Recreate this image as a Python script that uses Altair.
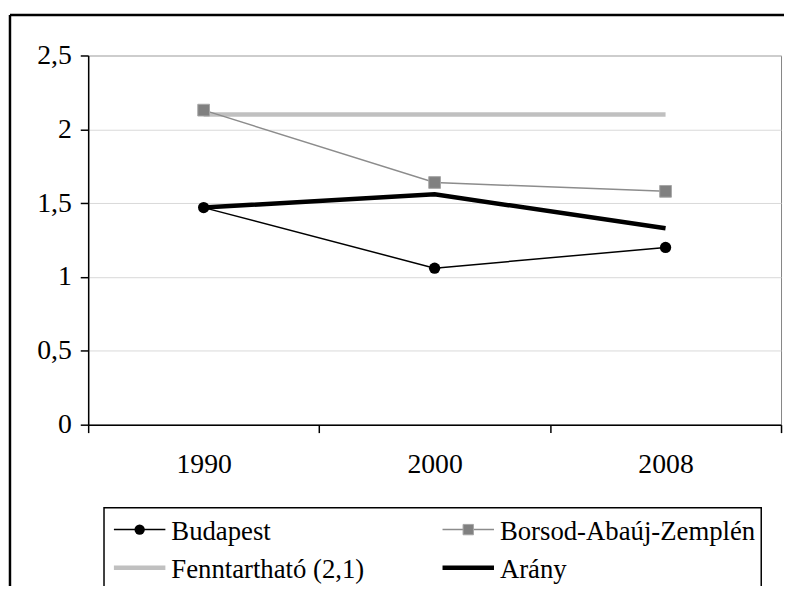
import altair as alt
import pandas as pd

years = ["1990", "2000", "2008"]
budapest = [1.47, 1.06, 1.20]
borsod = [2.13, 1.64, 1.58]
fenntarthato = [2.1, 2.1, 2.1]
arany = [1.47, 1.56, 1.33]
series_names = ["Budapest", "Borsod-Abaúj-Zemplén", "Fenntartható (2,1)", "Arány"]
y_ticks = [0, 0.5, 1, 1.5, 2, 2.5]

FONT = "Liberation Serif"
AXFS = 28
LEGFS = 27
W, H = 700, 373

rows = []
for name, vals in zip(series_names, [budapest, borsod, fenntarthato, arany]):
    for yr, v in zip(years, vals):
        rows.append({"year": yr, "value": v, "series": name})
df = pd.DataFrame(rows)

x_enc = alt.X(
    "year:O", sort=years,
    scale=alt.Scale(type="band", paddingInner=0, paddingOuter=0),
    axis=alt.Axis(title=None, tickBand="extent", labelAngle=0, tickSize=8,
                  labelPadding=18, grid=False),
)
y_enc = alt.Y(
    "value:Q",
    scale=alt.Scale(domain=[0, 2.5], nice=False, zero=True),
    axis=alt.Axis(title=None, values=y_ticks, tickSize=8, labelPadding=9,
                  labelExpr="replace(toString(datum.value), '.', ',')",
                  grid=True, gridColor="#d9d9d9", gridWidth=1),
)

base = alt.Chart(df).encode(x=x_enc, y=y_enc)


def sel(name):
    return base.transform_filter(alt.datum.series == name)


fen_line = sel("Fenntartható (2,1)").mark_line(color="#c0c0c0", strokeWidth=4.5)
ar_line = sel("Arány").mark_line(color="#000000", strokeWidth=4.5)
bud_line = sel("Budapest").mark_line(color="#000000", strokeWidth=1.5)
bor_line = sel("Borsod-Abaúj-Zemplén").mark_line(color="#8c8c8c", strokeWidth=1.5)
bud_pts = sel("Budapest").mark_point(shape="circle", filled=True, size=130,
                                      color="#000000", opacity=1)
bor_pts = sel("Borsod-Abaúj-Zemplén").mark_point(shape="square", filled=True, size=140,
                                                  fill="#808080", stroke="#a6a6a6",
                                                  strokeWidth=1, opacity=1)

one = pd.DataFrame({"k": [0]})

# outer frame (left and top edges; right/bottom fall outside the picture)
frame_top = alt.Chart(one).mark_rule(color="black", strokeWidth=2.5).encode(
    x=alt.value(-79), x2=alt.value(720), y=alt.value(-41))
frame_left = alt.Chart(one).mark_rule(color="black", strokeWidth=2.5).encode(
    x=alt.value(-79), y=alt.value(-41), y2=alt.value(600))

# legend box
leg_box = alt.Chart(one).mark_rect(fill="white", fillOpacity=0, stroke="black",
                                   strokeWidth=1.5).encode(
    x=alt.value(16), x2=alt.value(680), y=alt.value(457), y2=alt.value(620))

legend_items = [
    (series_names[0], 26, 479),
    (series_names[1], 358, 479),
    (series_names[2], 26, 517.5),
    (series_names[3], 358, 517.5),
]
styles = {
    "Budapest": dict(color="#000000", sw=1.5),
    "Borsod-Abaúj-Zemplén": dict(color="#8c8c8c", sw=1.5),
    "Fenntartható (2,1)": dict(color="#c0c0c0", sw=4.5),
    "Arány": dict(color="#000000", sw=4.5),
}
leg_layers = []
for name, sx, sy in legend_items:
    st = styles[name]
    d = pd.DataFrame({"label": [name]})
    leg_layers.append(alt.Chart(d).mark_rule(color=st["color"], strokeWidth=st["sw"]).encode(
        x=alt.value(sx), x2=alt.value(sx + 52), y=alt.value(sy)))
    if name == "Budapest":
        leg_layers.append(alt.Chart(d).mark_point(shape="circle", filled=True, size=110,
                                                  color="#000000", opacity=1).encode(
            x=alt.value(sx + 26), y=alt.value(sy)))
    if name == "Borsod-Abaúj-Zemplén":
        leg_layers.append(alt.Chart(d).mark_point(shape="square", filled=True, size=110,
                                                  fill="#808080", stroke="#a6a6a6",
                                                  strokeWidth=1, opacity=1).encode(
            x=alt.value(sx + 26), y=alt.value(sy)))
    leg_layers.append(alt.Chart(d).mark_text(align="left", baseline="alphabetic",
                                             font=FONT, fontSize=LEGFS, color="black").encode(
        x=alt.value(sx + 58), y=alt.value(sy + 10), text="label:N"))

chart = alt.layer(
    fen_line, ar_line, bud_line, bor_line, bud_pts, bor_pts,
    frame_top, frame_left, leg_box, *leg_layers,
).properties(
    width=W, height=H,
    autosize=alt.AutoSizeParams(type="none"),
    padding={"left": 81, "top": 45, "right": 3, "bottom": 160},
).configure_view(
    stroke="#858585", strokeWidth=1,
).configure_axis(
    domainColor="black", domainWidth=1.5, tickColor="black", tickWidth=1.5,
    labelFont=FONT, labelFontSize=AXFS, labelColor="black",
)

chart.save("out.html", embed_options={"renderer": "svg", "actions": False})
